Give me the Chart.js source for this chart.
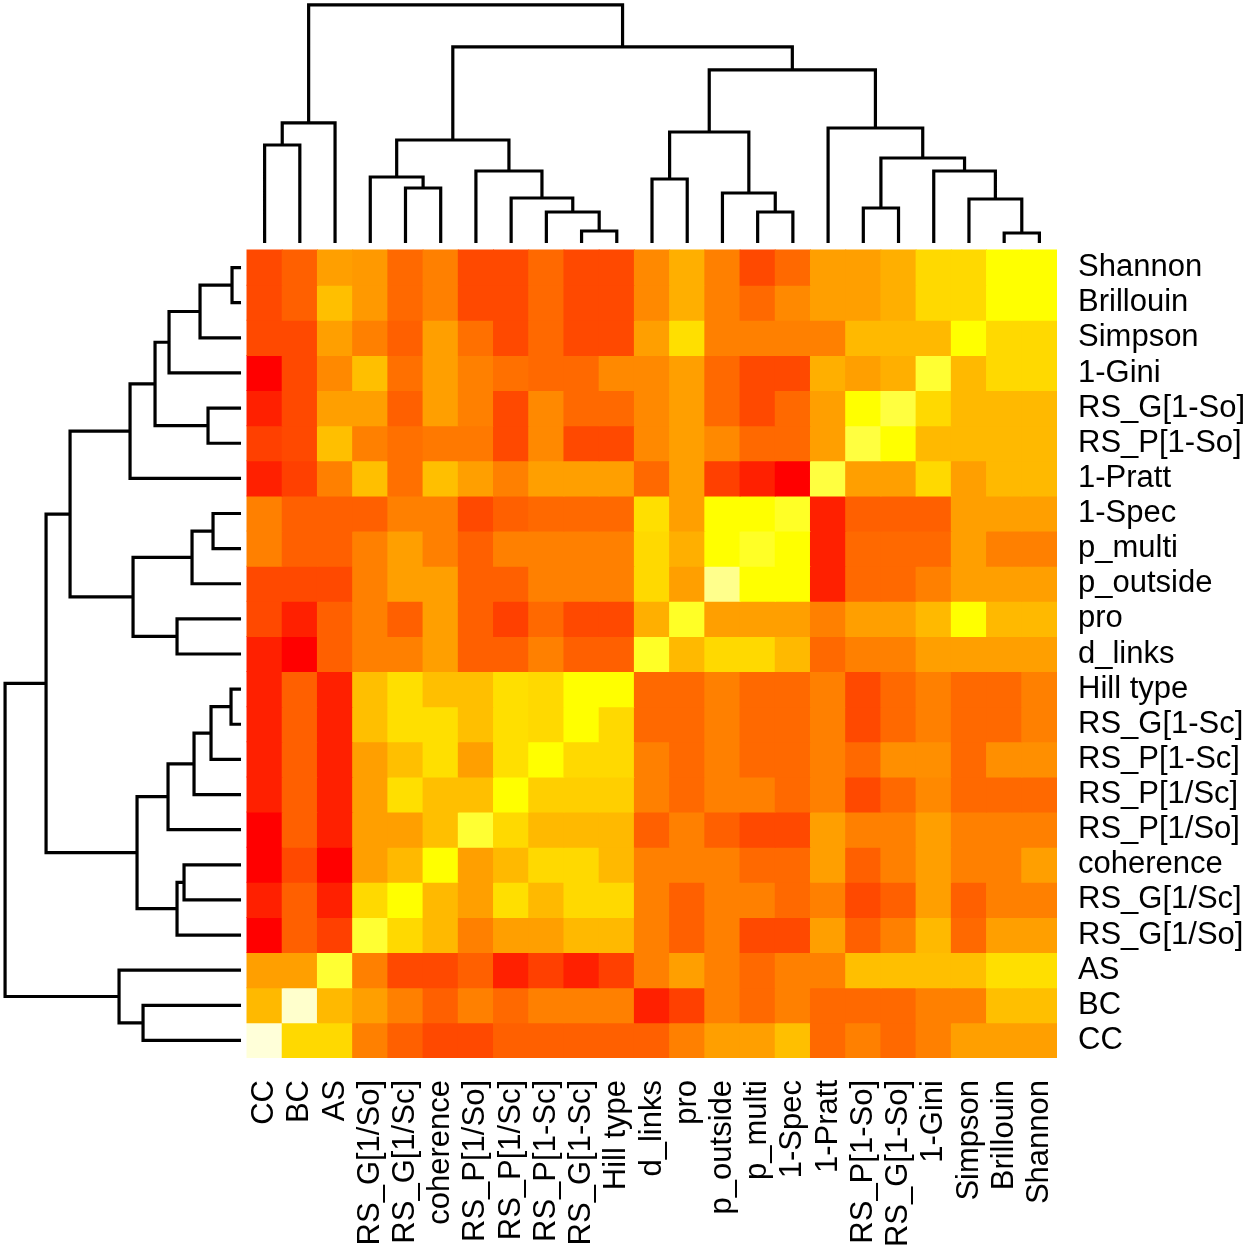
<!DOCTYPE html>
<html>
<head>
<meta charset="utf-8">
<script src="https://cdn.jsdelivr.net/npm/chart.js@4.4.1/dist/chart.umd.min.js"></script>
<style>
  html, body { margin: 0; padding: 0; background: #fff; }
</style>
</head>
<body>
<canvas id="heat" width="1250" height="1250"></canvas>
<script>
// column order (left -> right) and row order (top -> bottom)
const cols = ['CC','BC','AS','RS_G[1/So]','RS_G[1/Sc]','coherence','RS_P[1/So]','RS_P[1/Sc]','RS_P[1-Sc]','RS_G[1-Sc]','Hill type','d_links','pro','p_outside','p_multi','1-Spec','1-Pratt','RS_P[1-So]','RS_G[1-So]','1-Gini','Simpson','Brillouin','Shannon'];
const rows = ['Shannon','Brillouin','Simpson','1-Gini','RS_G[1-So]','RS_P[1-So]','1-Pratt','1-Spec','p_multi','p_outside','pro','d_links','Hill type','RS_G[1-Sc]','RS_P[1-Sc]','RS_P[1/Sc]','RS_P[1/So]','coherence','RS_G[1/Sc]','RS_G[1/So]','AS','BC','CC'];

// cell values, 0 = red ... 0.8 = yellow ... 1 = pale yellow (one array per row)
const values = [
  [0.23,0.30,0.50,0.48,0.33,0.40,0.23,0.23, 0.33,0.23,0.23,0.43,0.55,0.40,0.23,0.33, 0.50,0.50,0.55,0.68,0.68,0.80,0.80],
  [0.23,0.30,0.60,0.48,0.33,0.40,0.23,0.23, 0.33,0.23,0.23,0.43,0.55,0.40,0.33,0.43, 0.50,0.50,0.55,0.68,0.68,0.80,0.80],
  [0.23,0.23,0.50,0.40,0.30,0.50,0.35,0.23, 0.33,0.23,0.23,0.50,0.70,0.40,0.40,0.40, 0.40,0.58,0.58,0.58,0.80,0.68,0.68],
  [0.00,0.23,0.43,0.60,0.35,0.50,0.40,0.35, 0.33,0.33,0.43,0.43,0.50,0.33,0.23,0.23, 0.55,0.50,0.55,0.84,0.58,0.68,0.68],
  [0.10,0.23,0.50,0.50,0.30,0.50,0.40,0.23, 0.43,0.33,0.33,0.43,0.50,0.33,0.23,0.33, 0.50,0.80,0.85,0.68,0.58,0.58,0.58],
  [0.20,0.23,0.60,0.40,0.35,0.38,0.38,0.23, 0.43,0.23,0.23,0.43,0.50,0.43,0.33,0.33, 0.50,0.85,0.80,0.58,0.58,0.58,0.58],
  [0.10,0.20,0.40,0.60,0.35,0.60,0.50,0.40, 0.50,0.50,0.50,0.33,0.50,0.20,0.10,0.00, 0.85,0.50,0.50,0.68,0.50,0.58,0.58],
  [0.40,0.30,0.30,0.30,0.40,0.40,0.23,0.30, 0.33,0.33,0.33,0.70,0.50,0.80,0.80,0.83, 0.10,0.30,0.30,0.30,0.50,0.50,0.50],
  [0.40,0.30,0.30,0.40,0.50,0.40,0.30,0.40, 0.40,0.40,0.40,0.68,0.55,0.80,0.83,0.80, 0.10,0.33,0.33,0.33,0.50,0.40,0.40],
  [0.23,0.23,0.23,0.40,0.50,0.50,0.30,0.30, 0.40,0.40,0.40,0.68,0.50,0.91,0.80,0.80, 0.10,0.33,0.33,0.40,0.50,0.50,0.50],
  [0.23,0.10,0.30,0.40,0.30,0.50,0.30,0.20, 0.33,0.23,0.23,0.55,0.83,0.50,0.50,0.50, 0.40,0.50,0.50,0.58,0.80,0.58,0.58],
  [0.10,0.00,0.30,0.40,0.40,0.50,0.30,0.30, 0.40,0.30,0.30,0.83,0.58,0.68,0.68,0.58, 0.33,0.40,0.40,0.50,0.50,0.50,0.50],
  [0.10,0.30,0.10,0.60,0.70,0.60,0.60,0.70, 0.68,0.80,0.80,0.33,0.33,0.40,0.33,0.33, 0.40,0.23,0.33,0.40,0.33,0.33,0.40],
  [0.10,0.30,0.10,0.60,0.70,0.70,0.60,0.70, 0.68,0.80,0.68,0.33,0.33,0.40,0.33,0.33, 0.40,0.23,0.33,0.40,0.33,0.33,0.40],
  [0.10,0.30,0.10,0.50,0.60,0.70,0.50,0.70, 0.80,0.68,0.68,0.40,0.33,0.40,0.33,0.33, 0.40,0.33,0.45,0.45,0.33,0.45,0.45],
  [0.10,0.30,0.10,0.50,0.70,0.60,0.60,0.80, 0.65,0.65,0.65,0.40,0.33,0.40,0.40,0.33, 0.40,0.23,0.33,0.43,0.33,0.33,0.33],
  [0.00,0.30,0.10,0.50,0.50,0.60,0.84,0.68, 0.58,0.58,0.58,0.30,0.40,0.30,0.23,0.23, 0.50,0.40,0.40,0.50,0.40,0.40,0.40],
  [0.00,0.23,0.00,0.50,0.58,0.80,0.50,0.58, 0.68,0.68,0.58,0.40,0.40,0.40,0.33,0.33, 0.50,0.30,0.40,0.50,0.40,0.40,0.50],
  [0.10,0.30,0.10,0.68,0.80,0.58,0.50,0.70, 0.58,0.68,0.68,0.40,0.30,0.40,0.40,0.33, 0.40,0.23,0.30,0.50,0.30,0.40,0.40],
  [0.00,0.30,0.20,0.84,0.68,0.58,0.40,0.50, 0.50,0.58,0.58,0.40,0.30,0.40,0.23,0.23, 0.50,0.30,0.40,0.58,0.33,0.50,0.50],
  [0.50,0.50,0.84,0.40,0.23,0.23,0.30,0.10, 0.20,0.10,0.20,0.40,0.50,0.40,0.33,0.40, 0.40,0.60,0.60,0.60,0.60,0.70,0.70],
  [0.58,0.96,0.58,0.50,0.40,0.30,0.40,0.33, 0.40,0.40,0.40,0.10,0.20,0.40,0.33,0.40, 0.33,0.33,0.33,0.40,0.40,0.60,0.60],
  [0.97,0.68,0.68,0.40,0.30,0.23,0.23,0.30, 0.30,0.30,0.30,0.30,0.40,0.50,0.50,0.60, 0.33,0.40,0.33,0.40,0.50,0.50,0.50]
];

// dendrograms, hclust style: negative = leaf (1-based position), positive = earlier merge; third = height
const colMerge = [
  [-1,-2,0.98], [1,-3,1.20], [-5,-6,0.55], [-4,3,0.66], [-10,-11,0.12], [-9,5,0.31],
  [-8,6,0.45], [-7,7,0.72], [4,8,1.03], [-12,-13,0.64], [-15,-16,0.31], [-14,11,0.50],
  [10,12,1.11], [-18,-19,0.35], [-22,-23,0.10], [-21,15,0.44], [-20,16,0.72], [14,17,0.85],
  [-17,18,1.15], [13,19,1.73], [9,20,1.96], [2,21,2.38]
];
const rowMerge = [
  [-1,-2,0.09], [-3,1,0.41], [-4,2,0.72], [-5,-6,0.33], [3,4,0.86], [5,-7,1.11],
  [-8,-9,0.28], [7,-10,0.49], [-11,-12,0.64], [8,9,1.08], [6,10,1.71], [-13,-14,0.10],
  [12,-15,0.30], [13,-16,0.47], [14,-17,0.73], [-18,-19,0.57], [16,-20,0.64], [15,17,1.04],
  [11,18,1.95], [-22,-23,0.98], [-21,20,1.22], [19,21,2.36]
];

// R heat.colors-like ramp
const heat = function(v) {
  if (v <= 0.8) return 'rgb(255,' + Math.round(255 * v / 0.8) + ',0)';
  return 'rgb(255,255,' + Math.round(255 * (v - 0.8) / 0.2) + ')';
};

const dendroPath = function(merges, toPoint) {
  var pos = [], hgt = [], pts = [];
  var node = function(id) {
    return id < 0 ? {p: -id - 1, h: 0} : {p: pos[id - 1], h: hgt[id - 1]};
  };
  merges.forEach(function(m) {
    var A = node(m[0]), B = node(m[1]), h = m[2];
    pts.push(toPoint(A.p, A.h), toPoint(A.p, h), toPoint(B.p, h), toPoint(B.p, B.h), {x: null, y: null});
    pos.push((A.p + B.p) / 2);
    hgt.push(h);
  });
  return pts;
};

const datasets = rows.map(function(r, i) {
  return {
    label: r,
    data: cols.map(function(c, j) { return {x: j, y: [i - 0.5, i + 0.5]}; }),
    backgroundColor: values[i].map(heat),
    borderWidth: 0,
    grouped: false,
    barPercentage: 1,
    categoryPercentage: 1,
    inflateAmount: 0.5
  };
});

const lineStyle = {
  type: 'line', borderColor: '#000', borderWidth: 3.2, pointRadius: 0,
  fill: false, tension: 0, spanGaps: false, borderJoinStyle: 'miter'
};
datasets.push(Object.assign({label: 'colTree',
  data: dendroPath(colMerge, function(p, h) { return {x: p, y: -0.7 - 2.847 * h}; })}, lineStyle));
datasets.push(Object.assign({label: 'rowTree',
  data: dendroPath(rowMerge, function(p, h) { return {x: -0.67 - 2.839 * h, y: p}; })}, lineStyle));

const labelFont = {family: "'Liberation Sans', Arial, sans-serif", size: 31};

// keep the axis boxes at fixed sizes and drop the label overflow padding
const fixBox = function(s) {
  if (s.isHorizontal()) s.height = 192; else s.width = 193;
  s.paddingLeft = 0; s.paddingRight = 0; s.paddingTop = 0; s.paddingBottom = 0;
};

new Chart(document.getElementById('heat'), {
  type: 'bar',
  data: {datasets: datasets},
  options: {
    responsive: false,
    animation: false,
    events: [],
    layout: {padding: 0, autoPadding: false},
    plugins: {legend: {display: false}, tooltip: {enabled: false}},
    scales: {
      x: {
        type: 'linear', position: 'bottom', min: -7.514, max: 22.5, offset: false,
        grid: {display: false, drawTicks: false}, border: {display: false},
        afterBuildTicks: function(s) { s.ticks = cols.map(function(c, i) { return {value: i}; }); },
        afterFit: fixBox,
        ticks: {
          autoSkip: false, minRotation: 90, maxRotation: 90, padding: 22,
          color: '#000', font: labelFont,
          callback: function(v) { return cols[v]; }
        }
      },
      y: {
        type: 'linear', position: 'right', reverse: true, min: -7.617, max: 22.5, offset: false,
        grid: {display: false, drawTicks: false}, border: {display: false},
        afterBuildTicks: function(s) { s.ticks = rows.map(function(r, i) { return {value: i}; }); },
        afterFit: fixBox,
        ticks: {
          autoSkip: false, padding: 21, color: '#000', font: labelFont,
          callback: function(v) { return rows[v]; }
        }
      }
    }
  }
});
</script>
</body>
</html>
